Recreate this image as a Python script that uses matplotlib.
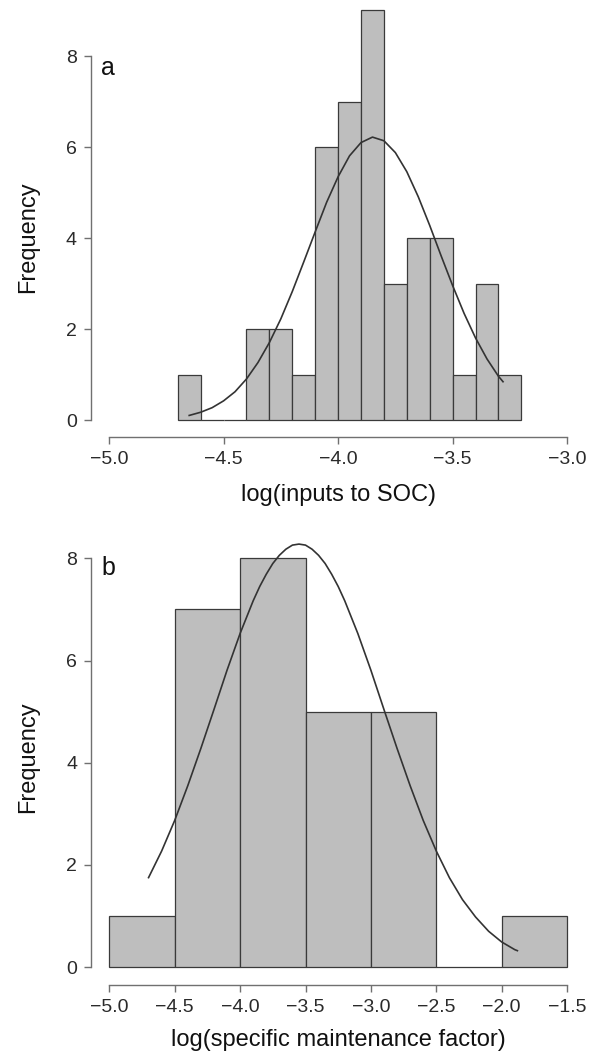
import matplotlib.pyplot as plt

plt.rcParams['font.family'] = ['Liberation Sans', 'DejaVu Sans']

# panel a: histogram of log(inputs to SOC)
bins_a = [-4.7, -4.6, -4.5, -4.4, -4.3, -4.2, -4.1, -4.0, -3.9, -3.8, -3.7, -3.6, -3.5, -3.4, -3.3, -3.2]
counts_a = [1, 0, 0, 2, 2, 1, 6, 7, 9, 3, 4, 4, 1, 3, 1]
# fitted normal curve
curve_a_x = [-4.65, -4.60, -4.55, -4.50, -4.45, -4.40, -4.35, -4.30, -4.25, -4.20,
             -4.15, -4.10, -4.05, -4.00, -3.95, -3.90, -3.85, -3.80, -3.75, -3.70,
             -3.65, -3.60, -3.55, -3.50, -3.45, -3.40, -3.35, -3.30, -3.28]
curve_a_y = [0.11, 0.18, 0.28, 0.43, 0.63, 0.91, 1.27, 1.71, 2.23, 2.83,
             3.48, 4.14, 4.79, 5.35, 5.81, 6.10, 6.22, 6.14, 5.88, 5.46,
             4.91, 4.28, 3.61, 2.96, 2.35, 1.81, 1.35, 0.97, 0.85]
xticks_a = [-5.0, -4.5, -4.0, -3.5, -3.0]
xticklabels_a = ['\u22125.0', '\u22124.5', '\u22124.0', '\u22123.5', '\u22123.0']

# panel b: histogram of log(specific maintenance factor)
bins_b = [-5.0, -4.5, -4.0, -3.5, -3.0, -2.5, -2.0, -1.5]
counts_b = [1, 7, 8, 5, 5, 0, 1]
curve_b_x = [-4.7, -4.6, -4.5, -4.4, -4.3, -4.2, -4.1, -4.0, -3.9, -3.85, -3.8,
             -3.75, -3.7, -3.65, -3.6, -3.55, -3.5, -3.45, -3.4, -3.35, -3.3,
             -3.25, -3.2, -3.1, -3.0, -2.9, -2.8, -2.7, -2.6, -2.5, -2.4,
             -2.3, -2.2, -2.1, -2.0, -1.9, -1.88]
curve_b_y = [1.75, 2.27, 2.87, 3.55, 4.28, 5.04, 5.81, 6.53, 7.17, 7.45, 7.69,
             7.90, 8.06, 8.18, 8.26, 8.28, 8.26, 8.18, 8.06, 7.90, 7.69,
             7.45, 7.17, 6.53, 5.81, 5.04, 4.28, 3.55, 2.87, 2.27, 1.75,
             1.32, 0.98, 0.70, 0.49, 0.34, 0.32]
xticks_b = [-5.0, -4.5, -4.0, -3.5, -3.0, -2.5, -2.0, -1.5]
xticklabels_b = ['\u22125.0', '\u22124.5', '\u22124.0', '\u22123.5', '\u22123.0',
                 '\u22122.5', '\u22122.0', '\u22121.5']

yticks = [0, 2, 4, 6, 8]

W, H = 591, 1052
fig = plt.figure(figsize=(W / 100, H / 100), dpi=100)

ax1 = fig.add_axes([90.7 / W, 1 - 437.3 / H, 494.8 / W, 437.3 / H])
ax2 = fig.add_axes([91.0 / W, 1 - 985.4 / H, 494.4 / W, 445.4 / H])


def draw_hist(ax, bins, counts, cx, cy):
    widths = [b - a for a, b in zip(bins[:-1], bins[1:])]
    ax.bar(bins[:-1], counts, width=widths, align='edge',
           color='#bebebe', edgecolor='#3a3a3a', linewidth=0.9)
    ax.plot(cx, cy, color='#333333', linewidth=1.2)


def style(ax, xticks, xlabels, xlabel, letter, letter_pos, pad):
    for s in ['top', 'right']:
        ax.spines[s].set_visible(False)
    for s in ['left', 'bottom']:
        ax.spines[s].set_color('#707070')
        ax.spines[s].set_linewidth(1.0)
    ax.spines['left'].set_bounds(yticks[0], yticks[-1])
    ax.spines['bottom'].set_bounds(xticks[0], xticks[-1])
    ax.set_yticks(yticks)
    ax.set_xticks(xticks)
    ax.set_xticklabels(xlabels)
    ax.tick_params(direction='out', length=5, width=1.0, color='#707070',
                   labelsize=14, labelcolor='#2a2a2a', pad=5)
    ax.set_xlabel(xlabel, fontsize=17, color='#111111', labelpad=pad)
    ax.set_ylabel('Frequency', fontsize=17, color='#111111')
    ax.text(letter_pos[0], letter_pos[1], letter, fontsize=18, color='#111111',
            ha='left', va='baseline')


draw_hist(ax1, bins_a, counts_a, curve_a_x, curve_a_y)
ax1.set_xlim(-5.08, -2.92)
ax1.set_ylim(-0.37, 9.23)
style(ax1, xticks_a, xticklabels_a, 'log(inputs to SOC)', 'a', (-5.035, 7.58), 11.5)
ax1.yaxis.set_label_coords(-0.105, 0.458)

draw_hist(ax2, bins_b, counts_b, curve_b_x, curve_b_y)
ax2.set_xlim(-5.14, -1.36)
ax2.set_ylim(-0.36, 8.36)
style(ax2, xticks_b, xticklabels_b, 'log(specific maintenance factor)', 'b', (-5.058, 7.68), 9)
ax2.yaxis.set_label_coords(-0.105, 0.513)

fig.savefig('out.png', dpi=100)
